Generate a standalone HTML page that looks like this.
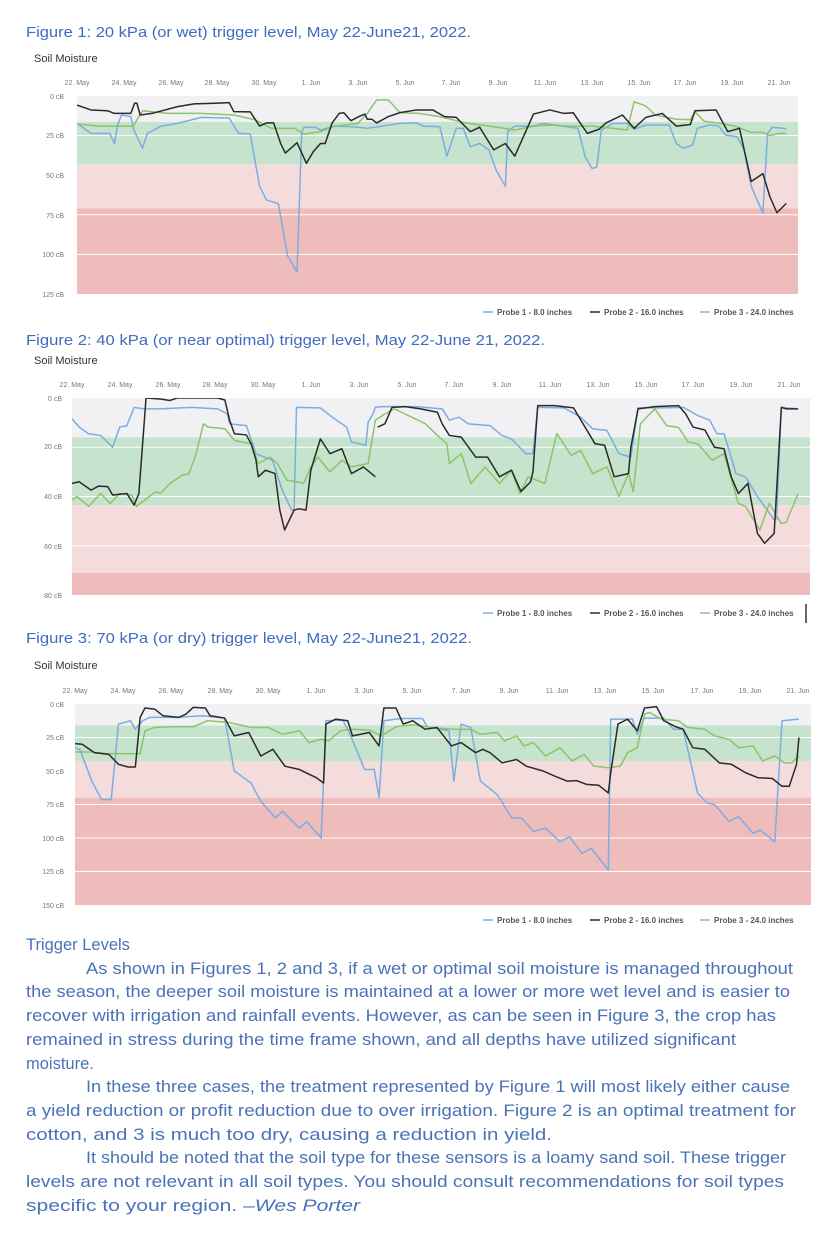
<!DOCTYPE html>
<html><head><meta charset="utf-8"><style>
html,body{margin:0;padding:0;background:#fff;}
svg{display:block}
.t{font-family:"Liberation Sans",sans-serif;}
.tl{font-size:7px;fill:#777;text-anchor:middle}
.yl{font-size:7px;fill:#777;text-anchor:end}
.lg{font-size:8px;fill:#555;font-weight:bold}
.ti{font-size:15px;fill:#3f6cc0}
.sm{font-size:11px;fill:#333}
.bd{font-size:16.5px;fill:#4a72b8}
.ln{fill:none;stroke-width:1.5;vector-effect:non-scaling-stroke;stroke-linejoin:round}
.gl{stroke:#fff;stroke-width:1;vector-effect:non-scaling-stroke}
</style></head><body>
<svg width="824" height="1238" xmlns="http://www.w3.org/2000/svg" class="t">
<rect width="824" height="1238" fill="#fff"/>

<!-- FIGURE 1 -->
<text class="ti" x="26" y="37" textLength="445" lengthAdjust="spacingAndGlyphs">Figure 1: 20 kPa (or wet) trigger level, May 22-June21, 2022.</text>
<text class="sm" x="34" y="62">Soil Moisture</text>
<g>
<text class="tl" x="77" y="85">22. May</text><text class="tl" x="124" y="85">24. May</text><text class="tl" x="171" y="85">26. May</text><text class="tl" x="217" y="85">28. May</text><text class="tl" x="264" y="85">30. May</text><text class="tl" x="311" y="85">1. Jun</text><text class="tl" x="358" y="85">3. Jun</text><text class="tl" x="405" y="85">5. Jun</text><text class="tl" x="451" y="85">7. Jun</text><text class="tl" x="498" y="85">9. Jun</text><text class="tl" x="545" y="85">11. Jun</text><text class="tl" x="592" y="85">13. Jun</text><text class="tl" x="639" y="85">15. Jun</text><text class="tl" x="685" y="85">17. Jun</text><text class="tl" x="732" y="85">19. Jun</text><text class="tl" x="779" y="85">21. Jun</text>
<text class="yl" x="64" y="99">0 cB</text><text class="yl" x="64" y="138">25 cB</text><text class="yl" x="64" y="178">50 cB</text><text class="yl" x="64" y="218">75 cB</text><text class="yl" x="64" y="257">100 cB</text><text class="yl" x="64" y="297">125 cB</text>
</g>
<svg x="77" y="96" width="721" height="198" viewBox="0 0 30.8 125" preserveAspectRatio="none">
<rect x="0" y="0" width="30.8" height="16.4" fill="#f1f1f4"/>
<rect x="0" y="16.4" width="30.8" height="26.6" fill="#c6e3cd"/>
<rect x="0" y="43" width="30.8" height="28" fill="#f5dcdc"/>
<rect x="0" y="71" width="30.8" height="54" fill="#efbcbc"/>
<line class="gl" x1="0" x2="30.8" y1="25" y2="25"/><line class="gl" x1="0" x2="30.8" y1="75" y2="75"/><line class="gl" x1="0" x2="30.8" y1="100" y2="100"/>
<path class="ln" stroke="#7aaee0" d="M0,17.3 L0.6,23.6 L1.4,23.6 L1.6,30 L1.74,18.3 L1.9,12 L2.3,13 L2.43,21.5 L2.8,33 L3,23.6 L3.6,19 L4.3,17.3 L5.3,13.5 L6.5,14 L6.9,23.6 L7.4,24 L7.8,57 L8.1,65.7 L8.6,68 L9,101 L9.4,111 L9.6,22.5 L9.7,19.8 L10.2,19.8 L10.4,21.5 L11,19 L11.8,19.4 L12.4,20.4 L13.8,17.3 L14.5,17 L14.8,19 L15.5,19.4 L15.8,38 L16.2,20.4 L16.5,20.4 L16.8,32 L17.2,30 L17.6,34 L17.9,46.7 L18.3,57 L18.4,22.5 L18.7,19 L19.5,19 L19.9,17.3 L20.9,19.4 L21.4,20.4 L21.7,38 L22,45.7 L22.2,45 L22.4,21.5 L22.9,17.3 L23.5,17.3 L23.8,21 L24.3,18.3 L25.3,18.3 L25.6,30 L25.9,33 L26.3,31 L26.5,20.4 L27,18.3 L27.4,18.8 L27.7,24.6 L28.2,25.7 L28.5,34 L28.8,57 L29.3,74 L29.5,23.6 L29.7,19.8 L30.2,20.4 L30.3,21"/>
<path class="ln" stroke="#8cc46a" d="M0,17.7 L1,19 L2.4,19 L2.8,9.3 L3.9,11 L5.3,11 L6.7,12 L7.6,15 L8.3,20.4 L9.3,20.4 L9.7,24 L10.4,22.5 L11,19 L12,17.3 L12.4,11 L12.6,6.7 L12.8,2.5 L13.3,2.5 L13.8,10.5 L14.6,11 L15.5,13 L16.6,17 L17.8,19.4 L18.7,21.5 L19.5,19 L20.2,18.3 L21,19 L22,19 L22.9,20.4 L23.5,21.5 L23.8,3.6 L24.3,6.3 L24.7,12 L25.6,14.7 L26.2,15 L26.4,10 L26.8,16 L27.5,17.3 L28.1,19 L28.8,23 L29.3,23 L29.6,25 L30,23.6 L30.3,23.6"/>
<path class="ln" stroke="#2a2a2a" d="M0,5.7 L0.6,8.8 L1.3,9.3 L1.6,11 L2.3,11 L2.46,4.6 L2.56,4.6 L2.7,12 L3.2,11 L4.3,6.7 L5,5 L5.9,4.6 L6.5,4.2 L6.7,9.9 L7.4,10 L7.8,19 L8.1,17 L8.4,17 L8.7,30 L8.9,36 L9.4,29.5 L9.8,42.5 L10.1,35 L10.4,30 L10.6,30 L10.9,17 L11.2,11 L11.4,10.6 L11.7,15.6 L12.1,12.6 L12.3,11.4 L12.4,14.7 L12.6,14.7 L12.8,17 L13.3,13 L13.8,10.5 L14.5,8.8 L15.2,8.8 L15.7,13 L16.2,13.5 L16.8,22.5 L17.2,19.7 L17.8,34 L18.3,30 L18.7,38 L19.5,11.4 L20.2,8.8 L20.8,11 L21.2,10.6 L21.8,23.6 L22.3,21 L22.6,17 L23.3,12 L23.8,20.4 L24.3,13.5 L25,11 L25.6,19 L26.2,18 L26.4,9.3 L27.3,8.8 L27.8,22.5 L28.3,20.4 L28.8,54 L29.3,49 L29.6,63.6 L29.9,73.7 L30.3,67.8"/>
</svg>
<g>
<line x1="483" x2="493" y1="312" y2="312" stroke="#7aaee0" stroke-width="1.5"/><text class="lg" x="497" y="315">Probe 1 - 8.0 inches</text>
<line x1="590" x2="600" y1="312" y2="312" stroke="#2a2a2a" stroke-width="1.5"/><text class="lg" x="604" y="315">Probe 2 - 16.0 inches</text>
<line x1="700" x2="710" y1="312" y2="312" stroke="#8cc46a" stroke-width="1.5"/><text class="lg" x="714" y="315">Probe 3 - 24.0 inches</text>
</g>

<!-- FIGURE 2 -->
<text class="ti" x="26" y="345" textLength="519" lengthAdjust="spacingAndGlyphs">Figure 2: 40 kPa (or near optimal) trigger level, May 22-June 21, 2022.</text>
<text class="sm" x="34" y="364">Soil Moisture</text>
<g>
<text class="tl" x="72" y="387">22. May</text><text class="tl" x="120" y="387">24. May</text><text class="tl" x="168" y="387">26. May</text><text class="tl" x="215" y="387">28. May</text><text class="tl" x="263" y="387">30. May</text><text class="tl" x="311" y="387">1. Jun</text><text class="tl" x="359" y="387">3. Jun</text><text class="tl" x="407" y="387">5. Jun</text><text class="tl" x="454" y="387">7. Jun</text><text class="tl" x="502" y="387">9. Jun</text><text class="tl" x="550" y="387">11. Jun</text><text class="tl" x="598" y="387">13. Jun</text><text class="tl" x="646" y="387">15. Jun</text><text class="tl" x="693" y="387">17. Jun</text><text class="tl" x="741" y="387">19. Jun</text><text class="tl" x="789" y="387">21. Jun</text>
<text class="yl" x="62" y="401">0 cB</text><text class="yl" x="62" y="449">20 cB</text><text class="yl" x="62" y="499">40 cB</text><text class="yl" x="62" y="549">60 cB</text><text class="yl" x="62" y="598">80 cB</text>
</g>
<svg x="72" y="398" width="738" height="197" viewBox="0 0 30.9 80" preserveAspectRatio="none">
<rect x="0" y="0" width="30.9" height="16" fill="#f1f1f4"/>
<rect x="0" y="16" width="30.9" height="27.5" fill="#c6e3cd"/>
<rect x="0" y="43.5" width="30.9" height="27.5" fill="#f5dcdc"/>
<rect x="0" y="71" width="30.9" height="9" fill="#efbcbc"/>
<line class="gl" x1="0" x2="30.9" y1="20" y2="20"/><line class="gl" x1="0" x2="30.9" y1="40" y2="40"/><line class="gl" x1="0" x2="30.9" y1="60" y2="60"/>
<path class="ln" stroke="#7aaee0" d="M0,8.5 L0.3,11.8 L0.7,14.5 L1.2,15.2 L1.7,20 L2,11.8 L2.3,11.2 L2.6,3.8 L3,4.4 L3.7,4.4 L5,3.8 L6.1,4.4 L6.5,6.5 L6.6,10.5 L7.3,11.2 L7.7,22.6 L8.4,25.3 L8.8,37.4 L9.2,45.5 L9.3,45 L9.4,3.8 L10.4,4 L10.9,7.8 L11.5,11.8 L11.7,17.9 L12.3,19.2 L12.4,9.8 L12.6,6.5 L12.7,3.8 L13,3.5 L14.4,3.5 L15.5,4.4 L15.8,9 L16.2,7.8 L16.6,10.5 L17.5,11.2 L18,15.2 L18.4,16.6 L19,22.6 L19.3,22.6 L19.5,3.8 L20.6,4 L21.3,7.8 L21.8,12.5 L22.4,13.2 L22.9,22.6 L23.4,24 L23.7,4 L24.7,4 L25.6,3.8 L26.2,7.1 L26.7,9 L27,14.5 L27.3,14.5 L27.8,30.7 L28.2,32 L28.7,40 L29.4,49.5 L29.5,49 L29.7,3.8 L30.4,4.4"/>
<path class="ln" stroke="#8cc46a" d="M0,41.5 L0.2,40 L0.7,44 L1.2,38.8 L1.6,42.8 L2,38.8 L2.5,39.4 L2.7,44 L3.5,38 L3.7,38.8 L4.1,34.7 L4.6,31.4 L4.9,30.7 L5.2,22.6 L5.5,10.5 L5.7,11.8 L6.4,12.5 L6.8,17.2 L7.5,18.6 L7.8,26.6 L8.3,24 L8.6,26.6 L9,33.4 L9.4,34 L9.7,34.7 L10,28 L10.3,24 L10.8,30 L11.3,25.3 L11.7,28 L12.4,26.6 L12.7,9 L13.1,6.5 L13.5,4.4 L13.95,6.5 L14.8,10.5 L15.3,15.2 L15.7,18.6 L15.8,26.6 L16.3,22.6 L16.7,34.7 L17.3,28 L17.9,34.7 L18.4,29.3 L18.75,38.8 L19.1,32 L19.8,34.7 L20.3,14.5 L20.9,23.3 L21.3,21.3 L21.8,30.7 L22.4,28 L22.9,40 L23.3,30.7 L23.5,38 L23.8,10.5 L24.4,4.4 L24.9,11.2 L25.4,12 L25.8,17.9 L26.2,18.6 L26.8,25.3 L27.3,22.6 L27.9,42.8 L28.2,44 L28.8,53.6 L29.2,42.8 L29.7,51 L29.9,50.5 L30.4,38.8"/>
<path class="ln" stroke="#2a2a2a" d="M0,34.7 L0.3,34 L0.8,37.4 L1.1,35.8 L1.5,36 L1.7,39.4 L2.3,38.8 L2.6,43.5 L2.8,38.8 L3.1,0 L3.7,0.4 L4.1,1 L4.4,0 L6.1,0 L6.4,0.8 L6.6,9 L6.8,14.5 L7.3,15 L7.5,18.6 L7.7,25 L7.8,32 L8.1,29.3 L8.5,30.7 L8.7,45.5 L8.9,53.6 L9.3,45.5 L9.5,45 L9.8,45.5 L10,29.3 L10.4,16.6 L10.8,22.6 L11.3,20.6 L11.7,30.7 L12.2,28 L12.7,32 M12.8,11.8 L13.1,10.5 L13.4,3.8 L13.95,3.5 L14.6,4.4 L15.3,5.8 L15.5,10.5 L15.8,15.2 L16.3,15.9 L16.9,24 L17.4,24 L17.9,32 L18.4,29.3 L18.8,38 L19.2,34 L19.3,30 L19.5,3.1 L20.2,3.1 L21,4 L21.4,10.5 L21.9,18.6 L22.3,19.2 L22.7,32 L23.3,30.7 L23.4,20 L23.7,4.4 L24.4,3.5 L25.4,3.1 L25.7,6.5 L26,11.8 L26.5,13 L26.9,20 L27.3,20.6 L27.6,32 L27.9,38.8 L28.3,34.7 L28.7,55 L29,59 L29.4,55 L29.7,3.8 L29.9,4.4 L30.4,4.4"/>
</svg>
<g>
<line x1="483" x2="493" y1="613" y2="613" stroke="#7aaee0" stroke-width="1.5"/><text class="lg" x="497" y="616">Probe 1 - 8.0 inches</text>
<line x1="590" x2="600" y1="613" y2="613" stroke="#2a2a2a" stroke-width="1.5"/><text class="lg" x="604" y="616">Probe 2 - 16.0 inches</text>
<line x1="700" x2="710" y1="613" y2="613" stroke="#8cc46a" stroke-width="1.5"/><text class="lg" x="714" y="616">Probe 3 - 24.0 inches</text>
<line x1="806" x2="806" y1="604" y2="623" stroke="#000" stroke-width="1.2"/>
</g>

<!-- FIGURE 3 -->
<text class="ti" x="26" y="643" textLength="446" lengthAdjust="spacingAndGlyphs">Figure 3: 70 kPa (or dry) trigger level, May 22-June21, 2022.</text>
<text class="sm" x="34" y="669">Soil Moisture</text>
<g>
<text class="tl" x="75" y="693">22. May</text><text class="tl" x="123" y="693">24. May</text><text class="tl" x="171" y="693">26. May</text><text class="tl" x="220" y="693">28. May</text><text class="tl" x="268" y="693">30. May</text><text class="tl" x="316" y="693">1. Jun</text><text class="tl" x="364" y="693">3. Jun</text><text class="tl" x="412" y="693">5. Jun</text><text class="tl" x="461" y="693">7. Jun</text><text class="tl" x="509" y="693">9. Jun</text><text class="tl" x="557" y="693">11. Jun</text><text class="tl" x="605" y="693">13. Jun</text><text class="tl" x="653" y="693">15. Jun</text><text class="tl" x="702" y="693">17. Jun</text><text class="tl" x="750" y="693">19. Jun</text><text class="tl" x="798" y="693">21. Jun</text>
<text class="yl" x="64" y="707">0 cB</text><text class="yl" x="64" y="740">25 cB</text><text class="yl" x="64" y="774">50 cB</text><text class="yl" x="64" y="807">75 cB</text><text class="yl" x="64" y="841">100 cB</text><text class="yl" x="64" y="874">125 cB</text><text class="yl" x="64" y="908">150 cB</text>
</g>
<svg x="75" y="704" width="736" height="201" viewBox="0 0 30.5 150" preserveAspectRatio="none">
<rect x="0" y="0" width="30.5" height="16" fill="#f1f1f4"/>
<rect x="0" y="16" width="30.5" height="26.5" fill="#c6e3cd"/>
<rect x="0" y="42.5" width="30.5" height="27.5" fill="#f5dcdc"/>
<rect x="0" y="70" width="30.5" height="80" fill="#efbcbc"/>
<line class="gl" x1="0" x2="30.5" y1="25" y2="25"/><line class="gl" x1="0" x2="30.5" y1="75" y2="75"/><line class="gl" x1="0" x2="30.5" y1="100" y2="100"/><line class="gl" x1="0" x2="30.5" y1="125" y2="125"/>
<path class="ln" stroke="#7aaee0" d="M0,32.6 L0.2,34 L0.7,57.6 L1.1,71.4 L1.5,71.4 L1.8,15 L2.3,12.5 L2.5,18.8 L2.8,12.5 L3.1,10 L4.2,10 L5.3,8.8 L6.2,10.5 L6.6,50 L7.3,59 L7.7,72.7 L8.3,85 L8.6,80 L9.3,92.7 L9.6,87.7 L10.2,100 L10.4,12.5 L11.1,12 L11.4,22.6 L12,48.9 L12.4,48.9 L12.6,70 L12.8,12.5 L13.5,10.8 L14.4,10.8 L14.6,17 L15.5,20 L15.7,57.6 L16,15 L16.4,17.5 L16.8,57.6 L17.5,67.7 L18.1,85 L18.5,85 L19,95 L19.5,92.7 L20.1,102.8 L20.5,99 L21,111.5 L21.4,107.7 L22.1,124 L22.2,11.3 L23.1,11.3 L23.3,22.6 L23.6,10.5 L24.4,10.5 L24.8,18.8 L25.2,18.8 L25.8,66.4 L26.2,74 L26.5,75 L27.1,87.7 L27.5,84 L28.1,96.5 L28.4,94 L29,102.8 L29.3,12.5 L30,11.3"/>
<path class="ln" stroke="#8cc46a" d="M0,35.8 L0.7,35.8 L1.3,37 L2.7,37 L2.9,20 L3.3,17.5 L4,17 L4.9,17 L5.5,12.5 L6.4,13.8 L7.3,17.5 L8,17.5 L8.6,22.6 L9.3,20 L9.7,28.8 L10.2,26.3 L10.5,27.6 L11,20 L11.5,18.8 L12.2,19.5 L12.7,23.8 L13.3,17 L14,15.5 L15,18 L15.4,18.5 L15.9,19 L16.4,18.8 L16.8,22.6 L17.5,21.3 L17.8,27.6 L18.3,23.8 L18.6,31.3 L19,28.8 L19.5,38.8 L20.1,32.6 L20.6,42.6 L21.1,37.6 L21.5,46.4 L22.1,47.6 L22.6,46.4 L22.9,36.3 L23.3,32.6 L23.6,7.5 L23.8,6.3 L24.3,11.3 L25,12.5 L25.4,17.5 L26.1,18.8 L26.5,23.8 L27.1,26.3 L27.5,32.6 L28.1,31.3 L28.5,42.6 L29,38.8 L29.4,43.9 L29.7,43.9 L30,38.8"/>
<path class="ln" stroke="#2a2a2a" d="M0,29.6 L0.3,30 L0.8,36.3 L1.4,37.6 L1.8,45 L2.2,47 L2.5,47 L2.7,10 L2.9,3 L3.3,3.8 L3.65,8.8 L4.3,10 L4.6,7.5 L4.9,2.5 L5.4,3 L5.6,8.8 L6.2,10.5 L6.6,23.8 L7.2,21.3 L7.7,38.8 L8.2,33.8 L8.7,46.4 L9.3,48.9 L10,55 L10.3,59 L10.4,15 L10.8,11.3 L11.3,12.5 L11.5,23.8 L12.2,21.3 L12.6,31.3 L12.8,3 L13.3,3 L13.6,15 L14,12.5 L14.5,18.8 L15,17.5 L15.6,31.3 L16,28.8 L16.6,36.3 L16.9,33.8 L17.2,36.3 L17.7,43.9 L18.3,41.4 L18.7,46.4 L19.4,50 L19.9,54 L20.4,57.6 L20.8,57.2 L21.2,60 L21.7,60.6 L22.1,66.4 L22.2,51.4 L22.5,15 L22.9,11.3 L23.3,20 L23.6,3 L24.1,2 L24.4,12.5 L24.9,17 L25.2,18.8 L25.6,32.6 L26.1,33.8 L26.7,43.9 L27.2,45 L27.8,51.4 L28.3,55 L28.9,55.6 L29.3,61.4 L29.6,61.4 L29.9,45 L30,25"/>
</svg>
<g>
<line x1="483" x2="493" y1="920" y2="920" stroke="#7aaee0" stroke-width="1.5"/><text class="lg" x="497" y="923">Probe 1 - 8.0 inches</text>
<line x1="590" x2="600" y1="920" y2="920" stroke="#2a2a2a" stroke-width="1.5"/><text class="lg" x="604" y="923">Probe 2 - 16.0 inches</text>
<line x1="700" x2="710" y1="920" y2="920" stroke="#8cc46a" stroke-width="1.5"/><text class="lg" x="714" y="923">Probe 3 - 24.0 inches</text>
</g>

<!-- BODY TEXT -->
<g class="bd">
<text x="26" y="950">Trigger Levels</text>
<text x="86" y="974" textLength="707" lengthAdjust="spacingAndGlyphs">As shown in Figures 1, 2 and 3, if a wet or optimal soil moisture is managed throughout</text>
<text x="26" y="997" textLength="764" lengthAdjust="spacingAndGlyphs">the season, the deeper soil moisture is maintained at a lower or more wet level and is easier to</text>
<text x="26" y="1021" textLength="750" lengthAdjust="spacingAndGlyphs">recover with irrigation and rainfall events. However, as can be seen in Figure 3, the crop has</text>
<text x="26" y="1045" textLength="710" lengthAdjust="spacingAndGlyphs">remained in stress during the time frame shown, and all depths have utilized significant</text>
<text x="26" y="1069">moisture.</text>
<text x="86" y="1092" textLength="704" lengthAdjust="spacingAndGlyphs">In these three cases, the treatment represented by Figure 1 will most likely either cause</text>
<text x="26" y="1116" textLength="770" lengthAdjust="spacingAndGlyphs">a yield reduction or profit reduction due to over irrigation. Figure 2 is an optimal treatment for</text>
<text x="26" y="1140" textLength="526" lengthAdjust="spacingAndGlyphs">cotton, and 3 is much too dry, causing a reduction in yield.</text>
<text x="86" y="1163" textLength="700" lengthAdjust="spacingAndGlyphs">It should be noted that the soil type for these sensors is a loamy sand soil. These trigger</text>
<text x="26" y="1187" textLength="758" lengthAdjust="spacingAndGlyphs">levels are not relevant in all soil types. You should consult recommendations for soil types</text>
<text x="26" y="1211" textLength="334" lengthAdjust="spacingAndGlyphs">specific to your region. –<tspan font-style="italic">Wes Porter</tspan></text>
</g>
</svg>
</body></html>
